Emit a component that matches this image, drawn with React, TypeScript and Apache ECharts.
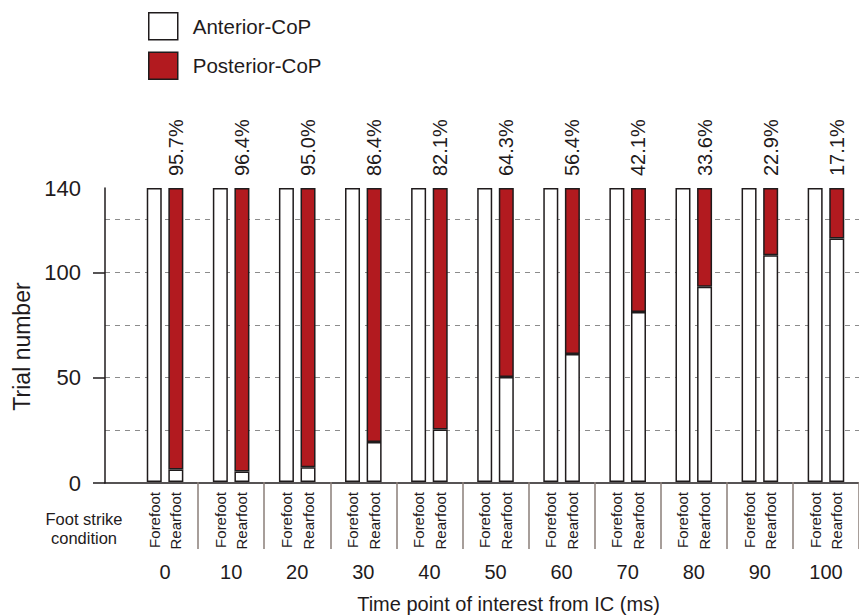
import { useEffect, useRef } from "react";
import * as echarts from "echarts";

// Time points after initial contact (ms)
const timePoints = ["0", "10", "20", "30", "40", "50", "60", "70", "80", "90", "100"];

// Trial counts per time point
const forefootAnterior = [140, 140, 140, 140, 140, 140, 140, 140, 140, 140, 140];
const rearfootAnterior = [6, 5, 7, 19, 25, 50, 61, 81, 93, 108, 116];
const rearfootPosterior = [134, 135, 133, 121, 115, 90, 79, 59, 47, 32, 24];

// Y axis ticks
const yLabelValues = [0, 50, 100, 140];
const yMajorTicks = [0, 50, 100];
const yMinorTicks = [25, 75];

const INK = "#1f1b1c";
const RED = "#b21a1f";
const FONT = "'Liberation Sans', Arial, Helvetica, sans-serif";

const posteriorShare = (i: number) =>
  ((rearfootPosterior[i] / (rearfootAnterior[i] + rearfootPosterior[i])) * 100).toFixed(1) + "%";

export default function App() {
  const ref = useRef<HTMLDivElement>(null);

  useEffect(() => {
    if (!ref.current) return;
    const chart = echarts.init(ref.current, undefined, { renderer: "svg" });

    const barBorder = { borderColor: INK, borderWidth: 1.5 };

    chart.setOption({
      animation: false,
      textStyle: { fontFamily: FONT, color: INK },
      legend: {
        orient: "vertical",
        left: 143,
        top: 7,
        itemWidth: 29,
        itemHeight: 27,
        itemGap: 11,
        icon: "rect",
        selectedMode: false,
        data: [
          { name: "Anterior-CoP", itemStyle: { color: "#ffffff", ...barBorder } },
          { name: "Posterior-CoP", itemStyle: { color: RED, ...barBorder } },
        ],
        textStyle: { fontSize: 20.5, color: INK, fontFamily: FONT, padding: [0, 0, 0, 10] },
      },
      grid: [
        { left: 105, right: 0, top: 188, bottom: 132 },
        { left: 132, right: 0, top: 188, bottom: 132 },
      ],
      xAxis: [
        {
          gridIndex: 0,
          type: "value",
          min: 0,
          max: 1,
          axisLine: { show: true, lineStyle: { color: INK, width: 1.5 } },
          axisTick: { show: false },
          axisLabel: { show: false },
          splitLine: { show: false },
        },
        {
          gridIndex: 1,
          type: "category",
          data: timePoints,
          axisLine: { show: false },
          axisTick: {
            show: true,
            interval: (i: number) => i > 0,
            length: 67,
            lineStyle: { color: "#8a7e79", width: 1.5 },
          },
          axisLabel: { margin: 80, fontSize: 20, color: INK, fontFamily: FONT },
          name: "Time point of interest from IC (ms)",
          nameLocation: "middle",
          nameGap: 112,
          nameTextStyle: { fontSize: 20, color: INK, fontFamily: FONT, padding: [0, 0, 0, 26] },
        },
      ],
      yAxis: [
        {
          gridIndex: 0,
          type: "value",
          min: 0,
          max: 140,
          axisLine: { show: true, lineStyle: { color: INK, width: 1.5 } },
          axisTick: { show: true, customValues: yMajorTicks, length: 12, lineStyle: { color: INK, width: 1.5 } },
          axisLabel: { customValues: yLabelValues, margin: 24, fontSize: 22, color: INK, fontFamily: FONT },
          splitLine: { show: false },
          name: "Trial number",
          nameLocation: "middle",
          nameGap: 70,
          nameTextStyle: { fontSize: 23, color: INK, fontFamily: FONT, padding: [0, 22, 0, 0] },
        },
        {
          gridIndex: 0,
          type: "value",
          min: 0,
          max: 140,
          axisLine: { show: false },
          axisTick: { show: true, customValues: yMinorTicks, length: 4, lineStyle: { color: INK, width: 1.5 } },
          axisLabel: { show: false },
          splitLine: { show: false },
        },
        {
          gridIndex: 0,
          type: "value",
          min: 0,
          max: 140,
          interval: 25,
          axisLine: { show: false },
          axisTick: { show: false },
          axisLabel: { show: false },
          splitLine: {
            show: true,
            showMinLine: false,
            showMaxLine: false,
            lineStyle: { color: "#8c8c8c", width: 1, type: [5, 5] },
          },
        },
        { gridIndex: 1, type: "value", min: 0, max: 140, show: false },
      ],
      series: [
        {
          name: "Anterior-CoP",
          type: "bar",
          xAxisIndex: 1,
          yAxisIndex: 3,
          stack: "forefoot",
          data: forefootAnterior,
          barWidth: 15,
          barGap: "44%",
          itemStyle: { color: "#ffffff", ...barBorder },
          label: {
            show: true,
            position: "bottom",
            distance: 10,
            rotate: 90,
            align: "right",
            verticalAlign: "middle",
            formatter: "Forefoot",
            fontSize: 15,
            color: INK,
            fontFamily: FONT,
          },
        },
        {
          name: "Anterior-CoP",
          type: "bar",
          xAxisIndex: 1,
          yAxisIndex: 3,
          stack: "rearfoot",
          data: rearfootAnterior,
          barWidth: 15,
          barGap: "44%",
          itemStyle: { color: "#ffffff", ...barBorder },
          label: {
            show: true,
            position: "bottom",
            distance: 10,
            rotate: 90,
            align: "right",
            verticalAlign: "middle",
            formatter: "Rearfoot",
            fontSize: 15,
            color: INK,
            fontFamily: FONT,
          },
        },
        {
          name: "Posterior-CoP",
          type: "bar",
          xAxisIndex: 1,
          yAxisIndex: 3,
          stack: "rearfoot",
          data: rearfootPosterior,
          barWidth: 15,
          barGap: "44%",
          itemStyle: { color: RED, ...barBorder },
          label: {
            show: true,
            position: "top",
            distance: 12,
            rotate: 90,
            align: "left",
            verticalAlign: "middle",
            formatter: (p: any) => posteriorShare(p.dataIndex),
            fontSize: 20,
            color: INK,
            fontFamily: FONT,
          },
        },
      ],
      graphic: [
        {
          type: "text",
          x: 84,
          y: 528,
          style: {
            text: "Foot strike\ncondition",
            align: "center",
            verticalAlign: "middle",
            fontSize: 16.5,
            lineHeight: 19,
            fill: INK,
            fontFamily: FONT,
          },
        },
      ],
    });

    return () => chart.dispose();
  }, []);

  return (
    <div
      ref={ref}
      style={{ position: "fixed", left: 0, top: 0, width: 859, height: 615, background: "#ffffff" }}
    />
  );
}
